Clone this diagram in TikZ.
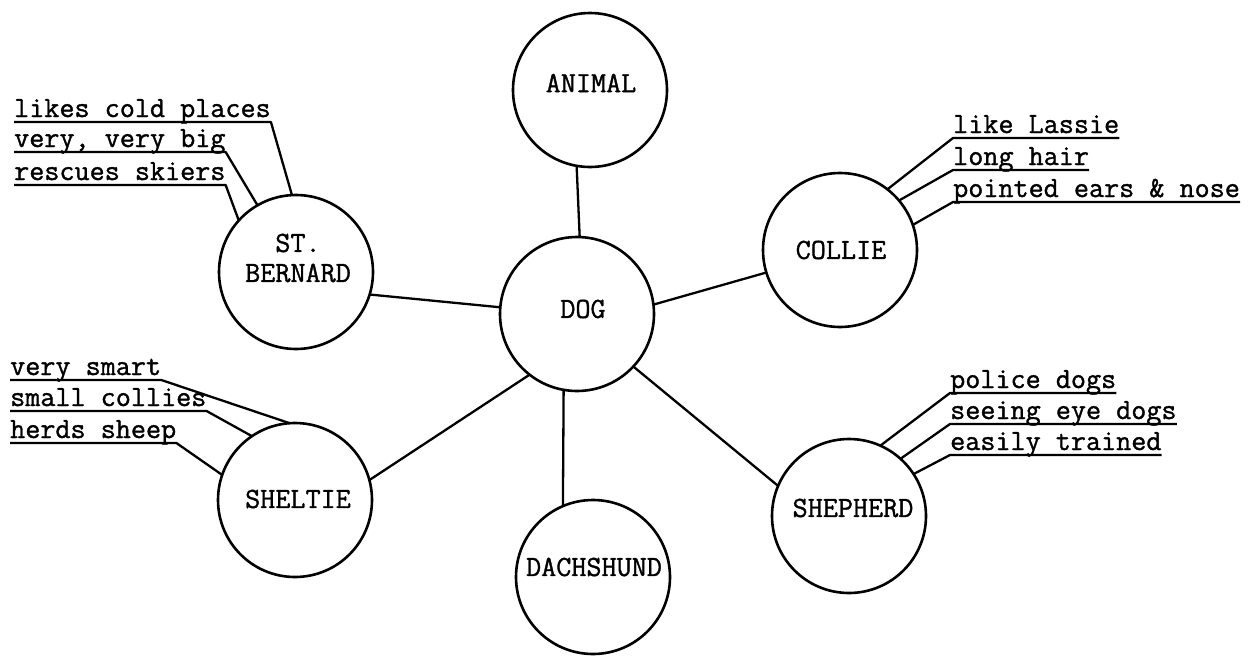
\documentclass[tikz,border=0pt]{standalone}
\usepackage{fontspec}
\newfontfamily\typew[FakeBold=1.2]{Latin Modern Mono}
\begin{document}
\begin{tikzpicture}[x=1pt,y=-1pt,
  circ/.style={circle,draw,line width=2.6pt,minimum size=154pt,inner sep=0pt,outer sep=0pt},
  txt/.style={font=\typew\fontsize{29.3}{30}\selectfont,inner sep=0pt},
  lbl/.style={txt,anchor=base west},
  con/.style={line width=2.3pt,line join=round}]
\useasboundingbox (0,0) rectangle (1251,656);
% circles
\node[circ] (animal) at (590,90) {};
\node[txt] (tanimal) at (591,83) {ANIMAL};
\node[circ] (dog) at (577,314) {};
\node[txt] (tdog) at (583,309) {DOG};
\node[circ] (stb) at (296,272) {};
\node[txt,align=center] (tstb) at (298,258) {ST.\\BERNARD};
\node[circ] (collie) at (840,250) {};
\node[txt] (tcollie) at (841,250) {COLLIE};
\node[circ] (sheltie) at (295,500) {};
\node[txt] (tsheltie) at (298,499) {SHELTIE};
\node[circ] (dach) at (593,577) {};
\node[txt] (tdach) at (594,567) {DACHSHUND};
\node[circ] (shep) at (849,516) {};
\node[txt] (tshep) at (853,508) {SHEPHERD};
% main connectors
\draw[con] (animal.260) -- (dog.88);
\draw[con] (stb.343) -- (dog.175);
\draw[con] (dog.7) -- (collie.197);
\draw[con] (dog.232) -- (sheltie.15);
\draw[con] (dog.260) -- (dach.113);
\draw[con] (dog.317) -- (shep.157);
% St. Bernard labels
\node[lbl] (b1) at (14,117) {likes cold places};
\node[lbl] (b2) at (14,147) {very, very big};
\node[lbl] (b3) at (14,180) {rescues skiers};
\draw[con] ([yshift=-5pt]b1.base west) -- ([yshift=-5pt]b1.base east) -- (stb.93);
\draw[con] ([yshift=-5pt]b2.base west) -- ([yshift=-5pt]b2.base east) -- (stb.120);
\draw[con] ([yshift=-5pt]b3.base west) -- ([yshift=-5pt]b3.base east) -- (stb.138);
% Sheltie labels
\node[lbl] (s1) at (10,375) {very smart};
\node[lbl] (s2) at (10,406) {small collies};
\node[lbl] (s3) at (10,438) {herds sheep};
\draw[con] ([yshift=-5pt]s1.base west) -- ([yshift=-5pt]s1.base east) -- (sheltie.94);
\draw[con] ([yshift=-5pt]s2.base west) -- ([yshift=-5pt]s2.base east) -- (sheltie.124);
\draw[con] ([yshift=-5pt]s3.base west) -- ([yshift=-5pt]s3.base east) -- (sheltie.161);
% Collie labels
\node[lbl] (c1) at (953,133) {like Lassie};
\node[lbl] (c2) at (953,165) {long hair};
\node[lbl] (c3) at (953,197) {pointed ears \& nose};
\draw[con] (collie.52) -- ([yshift=-5pt]c1.base west) -- ([yshift=-5pt]c1.base east);
\draw[con] (collie.40) -- ([yshift=-5pt]c2.base west) -- ([yshift=-5pt]c2.base east);
\draw[con] (collie.19) -- ([yshift=-5pt]c3.base west) -- ([yshift=-5pt]c3.base east);
% Shepherd labels
\node[lbl] (h1) at (950,388) {police dogs};
\node[lbl] (h2) at (950,419) {seeing eye dogs};
\node[lbl] (h3) at (950,450) {easily trained};
\draw[con] (shep.66) -- ([yshift=-5pt]h1.base west) -- ([yshift=-5pt]h1.base east);
\draw[con] (shep.48) -- ([yshift=-5pt]h2.base west) -- ([yshift=-5pt]h2.base east);
\draw[con] (shep.33) -- ([yshift=-5pt]h3.base west) -- ([yshift=-5pt]h3.base east);
\end{tikzpicture}
\end{document}
